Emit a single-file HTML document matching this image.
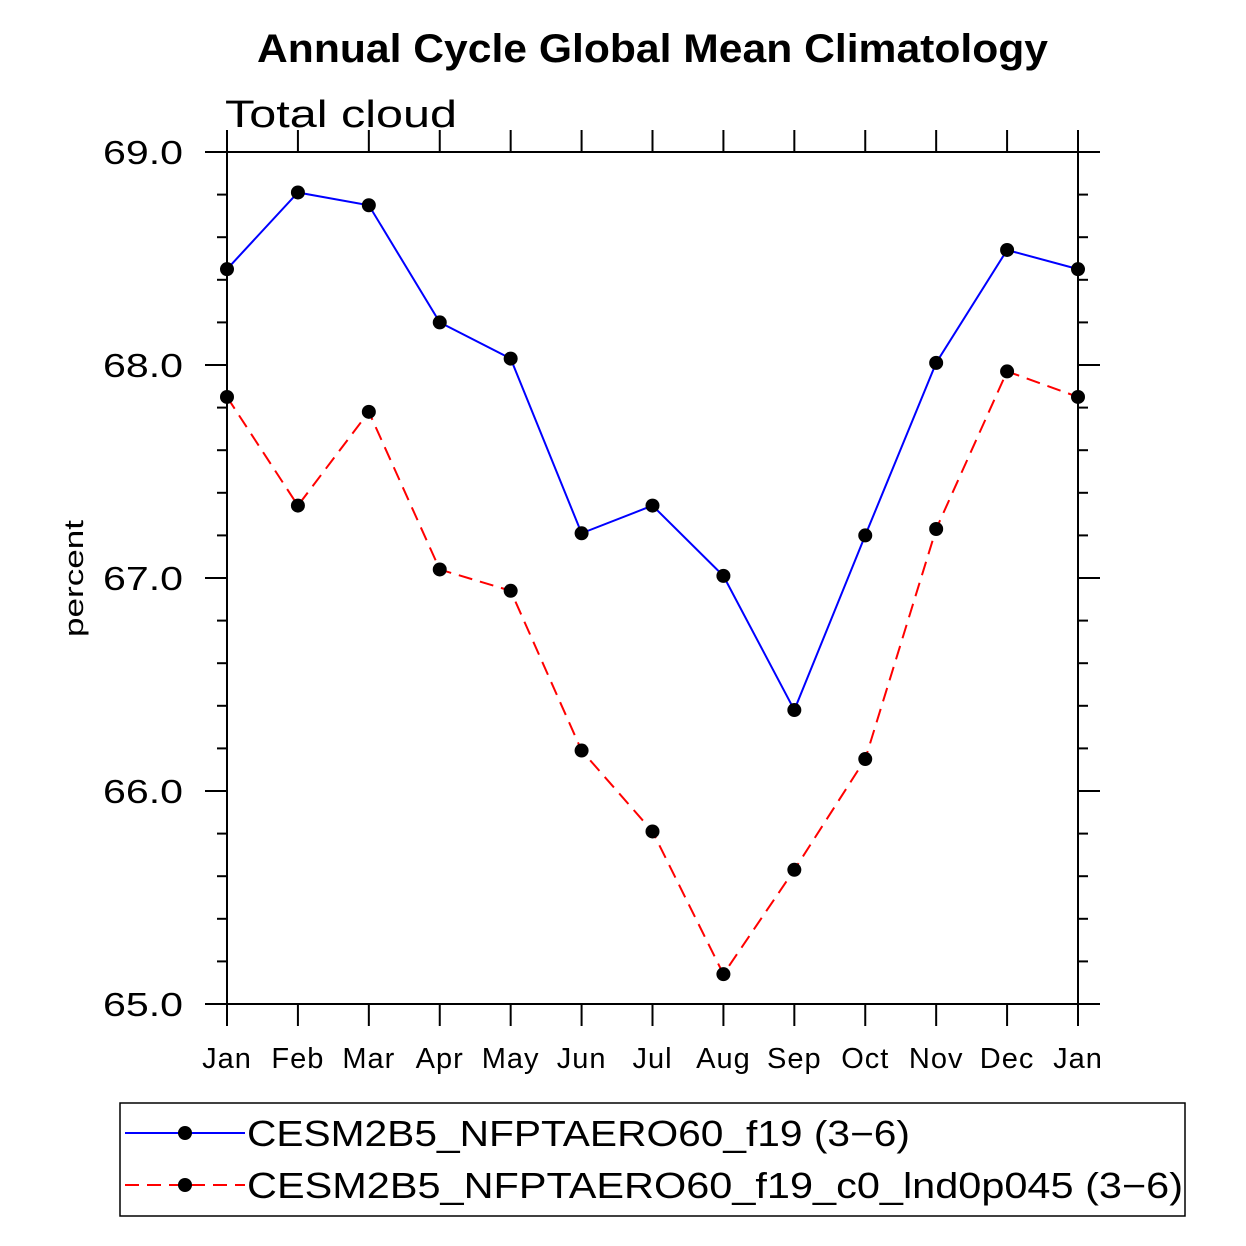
<!DOCTYPE html>
<html><head><meta charset="utf-8"><style>
body{margin:0;background:#fff}
svg{display:block;font-family:"Liberation Sans",sans-serif}
</style></head><body>
<svg id="chart" width="1246" height="1246">
<text x="257" y="62" textLength="791" lengthAdjust="spacingAndGlyphs" font-size="40" font-weight="bold">Annual Cycle Global Mean Climatology</text>
<text x="225" y="127" textLength="232" lengthAdjust="spacingAndGlyphs" font-size="38">Total cloud</text>
<text transform="translate(83,579) rotate(-90)" x="-58" textLength="117" lengthAdjust="spacingAndGlyphs" font-size="27">percent</text>
<rect x="227" y="152" width="851" height="852" fill="none" stroke="#000" stroke-width="2"/>
<g id="axes"></g>
<g id="series"></g>
<rect x="120" y="1103" width="1065" height="113" fill="none" stroke="#000" stroke-width="1.5"/>
<g>
<line x1="125" y1="1133" x2="245" y2="1133" stroke="#00f" stroke-width="2"/>
<circle cx="185" cy="1133" r="7" fill="#000"/>
<text x="247" y="1146" textLength="663" lengthAdjust="spacingAndGlyphs" font-size="36">CESM2B5_NFPTAERO60_f19 (3−6)</text></g>
<g>
<line x1="125" y1="1185" x2="245" y2="1185" stroke="#f00" stroke-width="2" stroke-dasharray="14,8"/>
<circle cx="185" cy="1185" r="7" fill="#000"/>
<text x="247" y="1198" textLength="936" lengthAdjust="spacingAndGlyphs" font-size="36">CESM2B5_NFPTAERO60_f19_c0_lnd0p045 (3−6)</text></g>
</svg>
<script>
const months=["Jan","Feb","Mar","Apr","May","Jun","Jul","Aug","Sep","Oct","Nov","Dec","Jan"];
const blueVals=[68.45,68.81,68.75,68.20,68.03,67.21,67.34,67.01,66.38,67.20,68.01,68.54,68.45];
const redVals=[67.85,67.34,67.78,67.04,66.94,66.19,65.81,65.14,65.63,66.15,67.23,67.97,67.85];
const yTicks=[65,66,67,68,69];
const NS="http://www.w3.org/2000/svg";
const X=i=>227+i*(851/12), Y=v=>152+(69-v)*213;
function mk(t,a,p){const e=document.createElementNS(NS,t);for(const k in a)e.setAttribute(k,a[k]);p.appendChild(e);return e;}
const ax=document.getElementById('axes');
months.forEach((m,i)=>{const x=X(i);
 mk('line',{x1:x,y1:1004,x2:x,y2:1026,stroke:'#000','stroke-width':2},ax);
 mk('line',{x1:x,y1:152,x2:x,y2:130,stroke:'#000','stroke-width':2},ax);
 const t=mk('text',{x:x,y:1068,'text-anchor':'middle','font-size':29,'letter-spacing':1},ax);t.textContent=m;
 
 });
for(let v=65;v<=69.001;v+=0.2){const y=Y(v);const maj=Math.abs(v-Math.round(v))<0.01;
 mk('line',{x1:227,y1:y,x2:maj?205:217,y2:y,stroke:'#000','stroke-width':2},ax);
 mk('line',{x1:1078,y1:y,x2:maj?1100:1088,y2:y,stroke:'#000','stroke-width':2},ax);}
yTicks.forEach(v=>{const t=mk('text',{x:103,y:Y(v)+12,textLength:80,lengthAdjust:'spacingAndGlyphs','font-size':33},ax);t.textContent=v.toFixed(1);
 
 });
const sg=document.getElementById('series');
function draw(vals,col,dash,name){
 const p=mk('polyline',{points:vals.map((v,i)=>X(i)+','+Y(v)).join(' '),fill:'none',stroke:col,'stroke-width':2,'stroke-dasharray':dash},sg);
 
 
 vals.forEach((v,i)=>{const c=mk('circle',{cx:X(i),cy:Y(v),r:7,fill:'#000'},sg);
  
  });
}
draw(blueVals,'#00f','none','blue-series');
draw(redVals,'#f00','14,8','red-series');
</script>
</body></html>
